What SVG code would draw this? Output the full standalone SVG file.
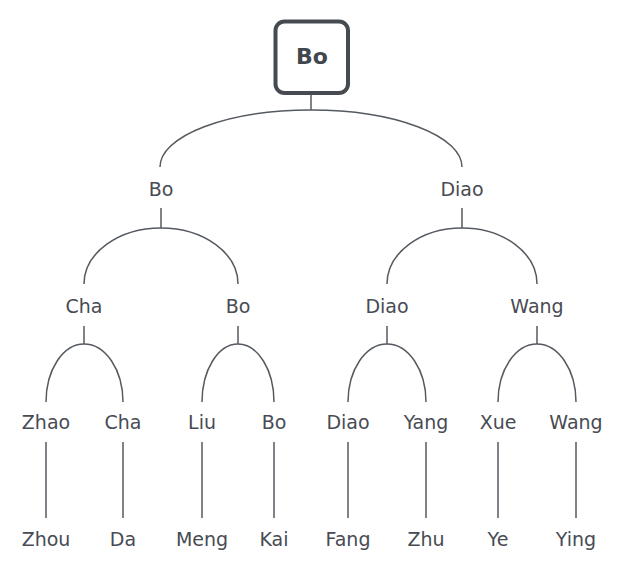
<svg xmlns="http://www.w3.org/2000/svg" width="622" height="568" viewBox="0 0 622 568">
<style>
.lbl{font-family:"DejaVu Sans","Liberation Sans",sans-serif;font-size:19px;fill:#474b53;text-anchor:middle}
.root{font-family:"DejaVu Sans","Liberation Sans",sans-serif;font-size:22px;font-weight:bold;fill:#42464d;text-anchor:middle}
.c{fill:none;stroke:#555a61;stroke-width:1.5}
</style>
<rect width="622" height="568" fill="#ffffff"/>
<g id="connectors">
<path class="c" d="M311,95 V110"/>
<path class="c" d="M160,167 A151,57 0 0 1 311,110 A151,57 0 0 1 462,167"/>
<path class="c" d="M161,208 V228"/>
<path class="c" d="M84,284 A77,56 0 0 1 161,228 A77,56 0 0 1 238,284"/>
<path class="c" d="M462,208 V228"/>
<path class="c" d="M387,284 A75,56 0 0 1 462,228 A75,56 0 0 1 537,284"/>
<path class="c" d="M84,326 V344"/>
<path class="c" d="M46,402 A38,58 0 0 1 84,344 A39,58 0 0 1 123,402"/>
<path class="c" d="M238,326 V344"/>
<path class="c" d="M202,402 A36,58 0 0 1 238,344 A36,58 0 0 1 274,402"/>
<path class="c" d="M387,326 V344"/>
<path class="c" d="M348,402 A39,58 0 0 1 387,344 A39,58 0 0 1 426,402"/>
<path class="c" d="M537,326 V344"/>
<path class="c" d="M498,402 A39,58 0 0 1 537,344 A39,58 0 0 1 576,402"/>
<path class="c" d="M46,442 V518 M123,442 V518 M202,442 V518 M274,442 V518 M348,442 V518 M426,442 V518 M498,442 V518 M576,442 V518"/>
</g>
<g id="root"><rect x="275.5" y="21.5" width="72.5" height="71.5" rx="9" fill="#ffffff" stroke="#464a51" stroke-width="4"/><text class="root" x="312" y="63.5">Bo</text></g>
<g id="n-bo1"><text class="lbl" x="161" y="196">Bo</text></g>
<g id="n-diao1"><text class="lbl" x="462" y="196">Diao</text></g>
<g id="n-cha2"><text class="lbl" x="84" y="313">Cha</text></g>
<g id="n-bo2"><text class="lbl" x="238" y="313">Bo</text></g>
<g id="n-diao2"><text class="lbl" x="387" y="313">Diao</text></g>
<g id="n-wang2"><text class="lbl" x="537" y="313">Wang</text></g>
<g id="n-zhao"><text class="lbl" x="46" y="429">Zhao</text></g>
<g id="n-cha3"><text class="lbl" x="123" y="429">Cha</text></g>
<g id="n-liu"><text class="lbl" x="202" y="429">Liu</text></g>
<g id="n-bo3"><text class="lbl" x="274" y="429">Bo</text></g>
<g id="n-diao3"><text class="lbl" x="348" y="429">Diao</text></g>
<g id="n-yang"><text class="lbl" x="426" y="429">Yang</text></g>
<g id="n-xue"><text class="lbl" x="498" y="429">Xue</text></g>
<g id="n-wang3"><text class="lbl" x="576" y="429">Wang</text></g>
<g id="n-zhou"><text class="lbl" x="46" y="546">Zhou</text></g>
<g id="n-da"><text class="lbl" x="123" y="546">Da</text></g>
<g id="n-meng"><text class="lbl" x="202" y="546">Meng</text></g>
<g id="n-kai"><text class="lbl" x="274" y="546">Kai</text></g>
<g id="n-fang"><text class="lbl" x="348" y="546">Fang</text></g>
<g id="n-zhu"><text class="lbl" x="426" y="546">Zhu</text></g>
<g id="n-ye"><text class="lbl" x="498" y="546">Ye</text></g>
<g id="n-ying"><text class="lbl" x="576" y="546">Ying</text></g>
</svg>
